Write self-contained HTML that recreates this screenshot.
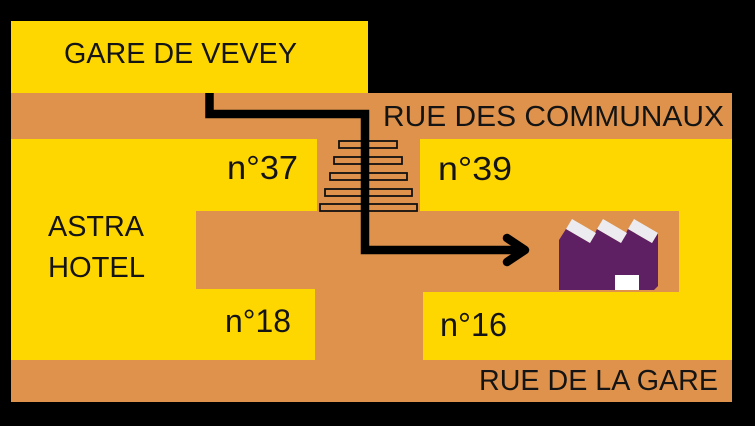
<!DOCTYPE html>
<html>
<head>
<meta charset="utf-8">
<style>
  html, body { margin: 0; padding: 0; background: #000; }
  body { width: 755px; height: 426px; overflow: hidden; }
  svg { display: block; }
  text { font-family: "Liberation Sans", "DejaVu Sans", sans-serif; fill: #141414; }
</style>
</head>
<body>
<svg width="755" height="426" viewBox="0 0 755 426" xmlns="http://www.w3.org/2000/svg">
  <rect x="0" y="0" width="755" height="426" fill="#000"/>

  <!-- orange street area -->
  <rect x="11" y="93" width="721" height="309" fill="#DE924B"/>

  <!-- Gare de Vevey -->
  <rect x="11" y="21" width="357" height="72" fill="#FFD700"/>

  <!-- left yellow blocks -->
  <rect x="11" y="139" width="306" height="72" fill="#FFD700"/>
  <rect x="11" y="210" width="185" height="80" fill="#FFD700"/>
  <rect x="11" y="289" width="304" height="71" fill="#FFD700"/>

  <!-- right yellow blocks -->
  <rect x="420" y="139" width="312" height="72" fill="#FFD700"/>
  <rect x="679" y="210" width="53" height="83" fill="#FFD700"/>
  <rect x="423" y="292" width="309" height="68" fill="#FFD700"/>

  <!-- stairs -->
  <g fill="#DE924B" stroke="#111" stroke-width="1.8">
    <rect x="339" y="141" width="58" height="7"/>
    <rect x="334" y="157" width="68" height="7"/>
    <rect x="330" y="173" width="77" height="7"/>
    <rect x="325" y="189" width="87" height="7"/>
    <rect x="320" y="204" width="97" height="7"/>
  </g>

  <!-- path arrow -->
  <path d="M209.5 93 V114 H365 V250 H524" fill="none" stroke="#000" stroke-width="8.5" stroke-linejoin="miter"/>
  <polyline points="507,238 525,250 507,262" fill="none" stroke="#000" stroke-width="8.5" stroke-linecap="round" stroke-linejoin="round"/>

  <!-- factory -->
  <polygon points="559,290 559,240 566,229 590,243 597,229 621,243 628,229 652,243 658,233 658,286 654,290" fill="#5E2063"/>
  <g fill="#ECECF0">
    <polygon points="566,229 572,219 596,233 590,243"/>
    <polygon points="597,229 603,219 627,233 621,243"/>
    <polygon points="628,229 634,219 658,233 652,243"/>
  </g>
  <rect x="615" y="275" width="24" height="15" fill="#FFFFFF"/>

  <!-- labels -->
  <text x="64" y="63" font-size="29" textLength="233" lengthAdjust="spacingAndGlyphs">GARE DE VEVEY</text>
  <text x="383" y="126" font-size="29" textLength="341" lengthAdjust="spacingAndGlyphs">RUE DES COMMUNAUX</text>
  <text x="227" y="179" font-size="33" textLength="71" lengthAdjust="spacingAndGlyphs">n°37</text>
  <text x="438" y="180" font-size="33" textLength="74" lengthAdjust="spacingAndGlyphs">n°39</text>
  <text x="48" y="236" font-size="29" textLength="96" lengthAdjust="spacingAndGlyphs">ASTRA</text>
  <text x="48" y="277" font-size="29" textLength="97" lengthAdjust="spacingAndGlyphs">HOTEL</text>
  <text x="225" y="332" font-size="32" textLength="66" lengthAdjust="spacingAndGlyphs">n°18</text>
  <text x="440" y="336" font-size="33" textLength="67" lengthAdjust="spacingAndGlyphs">n°16</text>
  <text x="479" y="390" font-size="29" textLength="239" lengthAdjust="spacingAndGlyphs">RUE DE LA GARE</text>
</svg>
</body>
</html>
